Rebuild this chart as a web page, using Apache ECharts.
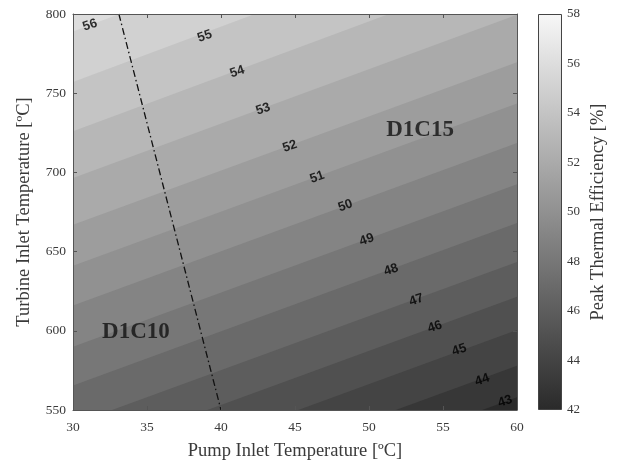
<!DOCTYPE html>
<html>
<head>
<meta charset="utf-8">
<script src="https://cdn.jsdelivr.net/npm/echarts@6/dist/echarts.min.js"></script>
<style>
html,body{margin:0;padding:0;background:#fff;}
#chart{width:617px;height:466px;}
</style>
</head>
<body>
<div id="chart"></div>
<script>
// Contour levels (Peak Thermal Efficiency, %)
const levels = [56, 55, 54, 53, 52, 51, 50, 49, 48, 47, 46, 45, 44, 43];
// Turbine inlet temperature where each contour line meets x = 30 and x = 60
const lineTAt30 = [789, 757, 726, 696.5, 667, 641, 616, 590, 565.5, 541, 519, 498, 475.5, 455.5];
const lineTAt60 = [894, 862, 830, 799.5, 769.5, 743.5, 718.5, 692.5, 668, 643.5, 621.5, 600.5, 578, 558];
// Contour label positions
const labelX = [31.15, 38.9, 41.1, 42.85, 44.65, 46.5, 48.4, 49.85, 51.5, 53.2, 54.45, 56.1, 57.65, 59.2];
const labelT = [793, 786, 763.5, 740, 716.5, 697, 679, 657.5, 638.5, 619.5, 602.5, 588, 569, 555.5];
// Regime boundary (dash-dot)
const boundaryX = [33.1, 40.0];
const boundaryT = [800, 550];
// Region labels
const regionNames = ['D1C15', 'D1C10'];
const regionX = [53.45, 34.25];
const regionT = [726.8, 599.2];
// Colorbar range
const cbMin = 42, cbMax = 58;

const xAxisName = 'Pump Inlet Temperature [ºC]';
const yAxisName = 'Turbine Inlet Temperature [ºC]';
const cbName = 'Peak Thermal Efficiency [%]';

function gray(v) {
  const g = Math.round(42 + (v - cbMin) * (247 - 42) / (cbMax - cbMin));
  return 'rgb(' + g + ',' + g + ',' + g + ')';
}

const serif = 'Liberation Serif';
const axisColor = '#555';
const labelColor = '#3a3a3a';

const series = [];
levels.forEach((lv, i) => {
  series.push({
    type: 'line', xAxisIndex: 0, yAxisIndex: 0,
    data: [[30, lineTAt30[i]], [60, lineTAt60[i]]],
    symbol: 'none', silent: true, clip: true, z: 2,
    lineStyle: { width: 0, opacity: 0 },
    areaStyle: { color: gray(lv - 1), opacity: 1, origin: 'start' }
  });
});
series.push({
  type: 'line', xAxisIndex: 0, yAxisIndex: 0,
  data: boundaryX.map((x, i) => [x, boundaryT[i]]),
  symbol: 'none', silent: true, clip: true, z: 5,
  lineStyle: { color: '#111', width: 1.3, type: [7, 3, 1.5, 3] }
});
series.push({
  type: 'scatter', xAxisIndex: 0, yAxisIndex: 0, z: 6, silent: true,
  symbol: 'circle', symbolSize: 1, itemStyle: { color: 'transparent' },
  data: labelX.map((x, i) => [x, labelT[i], levels[i]]),
  label: {
    show: true, position: 'inside', rotate: 19,
    formatter: p => String(p.value[2]),
    color: '#000', fontSize: 13, fontWeight: 'bold', fontFamily: 'Liberation Sans'
  }
});
series.push({
  type: 'scatter', xAxisIndex: 0, yAxisIndex: 0, z: 6, silent: true,
  symbol: 'circle', symbolSize: 1, itemStyle: { color: 'transparent' },
  data: regionX.map((x, i) => [x, regionT[i], regionNames[i]]),
  label: {
    show: true, position: 'inside',
    formatter: p => p.value[2],
    color: '#111', fontSize: 23, fontWeight: 'bold', fontFamily: serif
  }
});
// Colorbar
series.push({
  type: 'bar', xAxisIndex: 2, yAxisIndex: 2, stack: 'cb', barWidth: '100%',
  clip: false, silent: true, data: [cbMin], itemStyle: { color: 'transparent' }
});
series.push({
  type: 'bar', xAxisIndex: 2, yAxisIndex: 2, stack: 'cb', barWidth: '100%',
  clip: false, silent: true, data: [cbMax - cbMin],
  itemStyle: {
    color: new echarts.graphic.LinearGradient(0, 0, 0, 1, [
      { offset: 0, color: gray(cbMax) }, { offset: 1, color: gray(cbMin) }
    ]),
    borderColor: '#444', borderWidth: 1
  }
});

const tickCommon = { inside: true, length: 4, lineStyle: { color: axisColor } };
const lineCommon = { show: true, onZero: false, lineStyle: { color: axisColor, width: 1 } };
const nameStyle = { fontFamily: serif, fontSize: 18.5, color: labelColor };

const option = {
  animation: false,
  backgroundColor: '#fff',
  grid: [
    { left: 73, top: 14, width: 444, height: 396, show: true, backgroundColor: gray(56), borderWidth: 0 },
    { left: 538, top: 14, width: 24, height: 396 }
  ],
  xAxis: [
    { gridIndex: 0, type: 'value', min: 30, max: 60, interval: 5, z: 10,
      name: xAxisName, nameLocation: 'middle', nameGap: 32, nameTextStyle: nameStyle,
      axisLine: lineCommon, axisTick: tickCommon, splitLine: { show: false },
      axisLabel: { color: labelColor, fontFamily: serif, fontSize: 13.5, margin: 10 } },
    { gridIndex: 0, type: 'value', position: 'top', min: 30, max: 60, interval: 5, z: 10,
      axisLine: lineCommon, axisTick: tickCommon, splitLine: { show: false },
      axisLabel: { show: false } },
    { gridIndex: 1, type: 'category', data: ['cb'], show: false }
  ],
  yAxis: [
    { gridIndex: 0, type: 'value', min: 550, max: 800, interval: 50, z: 10,
      name: yAxisName, nameLocation: 'middle', nameGap: 39, nameRotate: 90, nameTextStyle: nameStyle,
      axisLine: lineCommon, axisTick: tickCommon, splitLine: { show: false },
      axisLabel: { color: labelColor, fontFamily: serif, fontSize: 13.5, margin: 7 } },
    { gridIndex: 0, type: 'value', position: 'right', min: 550, max: 800, interval: 50, z: 10,
      axisLine: lineCommon, axisTick: tickCommon, splitLine: { show: false },
      axisLabel: { show: false } },
    { gridIndex: 1, type: 'value', position: 'right', min: cbMin, max: cbMax, interval: 2, z: 10,
      name: cbName, nameLocation: 'middle', nameGap: 27, nameRotate: 90, nameTextStyle: nameStyle,
      axisLine: { show: false }, splitLine: { show: false },
      axisTick: { inside: true, length: 4, lineStyle: { color: '#444' } },
      axisLabel: { color: labelColor, fontFamily: serif, fontSize: 13, margin: 5 } }
  ],
  series: series
};

const chart = echarts.init(document.getElementById('chart'), null, { renderer: 'canvas' });
chart.setOption(option);
</script>
</body>
</html>
